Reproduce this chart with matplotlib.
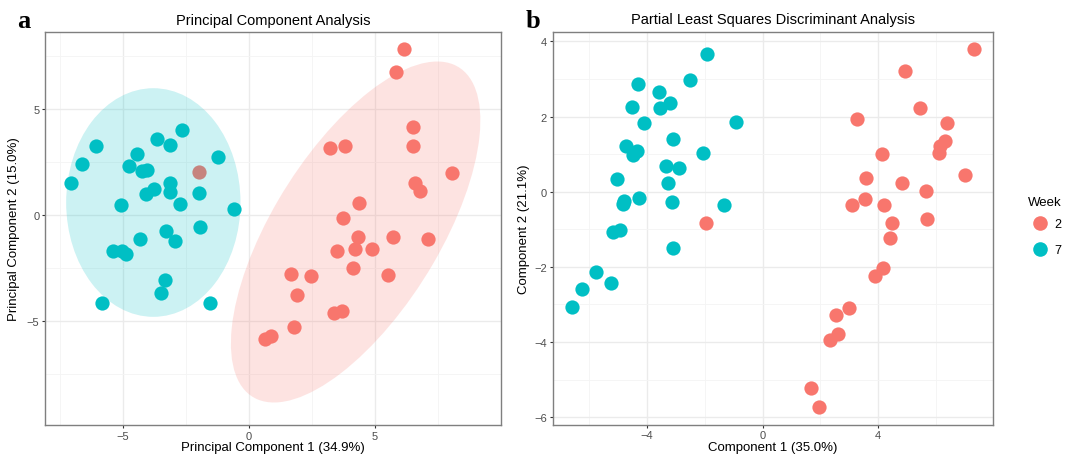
import matplotlib
matplotlib.use('Agg')
import matplotlib.pyplot as plt
from matplotlib.patches import Ellipse
from matplotlib.lines import Line2D
import numpy as np

plt.rcParams['font.family'] = ['Liberation Sans', 'DejaVu Sans']

RED = '#F8766D'
TEAL = '#00BFC4'

# PCA scores, week 2
pca_w2_x = [6.13, 5.82, 6.51, 6.51, 3.23, 3.81, 8.07, 6.60, 6.80, 4.37, 3.72,
            4.33, 5.70, 7.09, 3.51, 4.22, 4.87, 4.12, 5.52, 1.65, 2.44, 1.92,
            3.37, 3.69, 1.80, 0.65, 0.86, -2.00]
pca_w2_y = [7.81, 6.76, 4.17, 3.25, 3.18, 3.25, 2.00, 1.49, 1.15, 0.58, -0.13,
            -1.05, -1.02, -1.13, -1.71, -1.60, -1.62, -2.52, -2.83, -2.78, -2.86, -3.76,
            -4.62, -4.51, -5.30, -5.85, -5.71, 2.04]
# PCA scores, week 7
pca_w7_x = [-7.05, -6.63, -6.07, -5.10, -4.77, -4.43, -4.23, -4.07, -4.10, -3.78,
            -3.65, -3.12, -2.68, -3.12, -3.12, -2.75, -2.00, -1.23, -0.61,
            -3.28, -1.96, -4.34, -2.95, -5.40, -5.06, -4.89, -3.32, -3.49, -5.82, -1.55]
pca_w7_y = [1.51, 2.42, 3.24, 0.47, 2.33, 2.86, 2.09, 2.14, 0.98, 1.21,
            3.57, 3.30, 4.02, 1.49, 1.07, 0.53, 1.05, 2.72, 0.30,
            -0.77, -0.57, -1.13, -1.24, -1.68, -1.68, -1.84, -3.07, -3.68, -4.15, -4.15]

# PLS-DA scores, week 2
pls_w2_x = [7.31, 4.94, 5.44, 3.28, 6.37, 6.33, 6.16, 6.12, 4.14, 7.00, 3.58,
            4.83, 5.67, 3.54, 3.10, 4.19, 5.71, 4.47, -1.97,
            4.42, 4.16, 3.88, 2.99, 2.54, 2.61, 2.34, 1.66, 1.94]
pls_w2_y = [3.79, 3.22, 2.22, 1.93, 1.84, 1.34, 1.23, 1.03, 1.00, 0.45, 0.36,
            0.23, 0.02, -0.18, -0.34, -0.34, -0.72, -0.83, -0.83,
            -1.24, -2.03, -2.25, -3.09, -3.27, -3.79, -3.94, -5.21, -5.73]
# PLS-DA scores, week 7
pls_w7_x = [-1.93, -2.53, -4.31, -3.60, -3.21, -3.55, -4.52, -4.11, -0.92, -3.12,
            -4.73, -4.34, -4.48, -2.08, -3.35, -2.89, -5.06, -3.26, -4.27, -4.79,
            -4.83, -3.14, -1.32, -5.17, -4.93, -3.11, -5.78, -5.26, -6.25, -6.60]
pls_w7_y = [3.67, 2.98, 2.86, 2.66, 2.37, 2.24, 2.26, 1.82, 1.85, 1.40,
            1.23, 1.09, 0.99, 1.04, 0.69, 0.64, 0.34, 0.24, -0.17, -0.24,
            -0.33, -0.28, -0.35, -1.08, -1.02, -1.51, -2.13, -2.44, -2.59, -3.08]

# 95% ellipses on the PCA plot (centre, full width, full height, angle)
ell_w2 = ((4.23, -0.80), 17.6, 6.84, 63.8)
ell_w7 = ((-3.80, 0.59), 6.92, 10.78, 0.0)

weeks = ['2', '7']

fig = plt.figure(figsize=(10.68, 4.56), dpi=100)
W, H = 1068, 456
ax1 = fig.add_axes([45 / W, 1 - 426 / H, 456 / W, 393 / H])
ax2 = fig.add_axes([552.7 / W, 1 - 425.7 / H, 440.6 / W, 393 / H])


def style(ax, xt, yt, xm, ym):
    ax.set_xticks(xt)
    ax.set_yticks(yt)
    ax.set_xticks(xm, minor=True)
    ax.set_yticks(ym, minor=True)
    ax.grid(True, which='major', color='#EBEBEB', lw=1.0, zorder=0)
    ax.grid(True, which='minor', color='#F4F4F4', lw=0.6, zorder=0)
    ax.set_axisbelow(True)
    ax.tick_params(which='major', length=2.5, width=0.8, color='#333333',
                   labelsize=8, labelcolor='#4D4D4D', pad=1.5)
    ax.tick_params(which='minor', length=0)
    for s in ax.spines.values():
        s.set_color('#7F7F7F')
        s.set_linewidth(1.0)
    ax.set_xticklabels([('\u2212' + str(-v)) if v < 0 else str(v) for v in xt])
    ax.set_yticklabels([('\u2212' + str(-v)) if v < 0 else str(v) for v in yt])


# panel a
ax1.scatter(pca_w2_x, pca_w2_y, s=105, color=RED, lw=0, zorder=3)
ax1.scatter(pca_w7_x, pca_w7_y, s=105, color=TEAL, lw=0, zorder=3)
for (c, w, h, a), col in [(ell_w2, RED), (ell_w7, TEAL)]:
    ax1.add_patch(Ellipse(c, w, h, angle=a, facecolor=col, alpha=0.2,
                          edgecolor='none', zorder=4))
ax1.set_xlim(-8.1, 10.0)
ax1.set_ylim(-9.9, 8.63)
style(ax1, [-5, 0, 5], [-5, 0, 5], [-7.5, -2.5, 2.5, 7.5], [-7.5, -2.5, 2.5, 7.5])
ax1.set_title('Principal Component Analysis', fontsize=10.5, pad=6)
ax1.set_xlabel('Principal Component 1 (34.9%)', fontsize=9.5, labelpad=0.5)
ax1.set_ylabel('Principal Component 2 (15.0%)', fontsize=9.5, labelpad=5)

# panel b
ax2.scatter(pls_w2_x, pls_w2_y, s=105, color=RED, lw=0, zorder=3)
ax2.scatter(pls_w7_x, pls_w7_y, s=105, color=TEAL, lw=0, zorder=3)
ax2.set_xlim(-7.27, 7.99)
ax2.set_ylim(-6.2, 4.26)
style(ax2, [-4, 0, 4], [-6, -4, -2, 0, 2, 4], [-6, -2, 2, 6], [-5, -3, -1, 1, 3])
ax2.set_title('Partial Least Squares Discriminant Analysis', fontsize=10.5, pad=6)
ax2.set_xlabel('Component 1 (35.0%)', fontsize=9.5, labelpad=0.5)
ax2.set_ylabel('Component 2 (21.1%)', fontsize=9.5, labelpad=3)

# panel letters
fig.text(24 / W, 1 - 22 / H, 'a', fontsize=19, fontweight='bold',
         family='Liberation Serif', va='center', ha='center')
fig.text(533 / W, 1 - 22 / H, 'b', fontsize=19, fontweight='bold',
         family='Liberation Serif', va='center', ha='center')

# legend
fig.text(1028 / W, 1 - 203 / H, 'Week', fontsize=9.5, va='center', ha='left')
handles = [Line2D([], [], marker='o', ls='', markersize=10.5, color=c, mew=0)
           for c in (RED, TEAL)]
leg = fig.legend(handles, weeks, loc='upper left',
                 bbox_to_anchor=(1022 / W, 1 - 214 / H), frameon=False,
                 fontsize=9, handletextpad=0.2,
                 labelspacing=1.15, borderaxespad=0)

fig.savefig('out.png', dpi=100)
